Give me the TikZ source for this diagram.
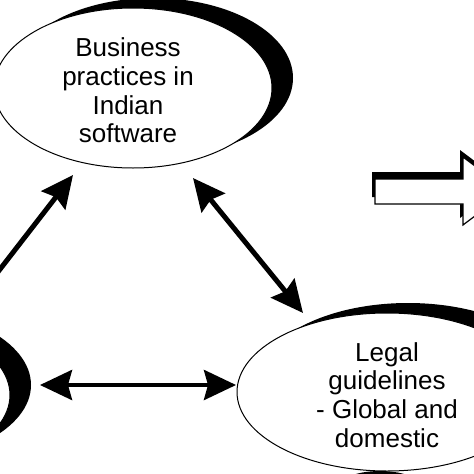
\documentclass[tikz,border=0pt]{standalone}
\usepackage{fontspec}
\setmainfont{Liberation Sans}
\usetikzlibrary{arrows.meta}
\begin{document}
\begin{tikzpicture}[x=1pt,y=-1pt,
  shadowfill/.style={fill=black},
  bubble/.style={draw=black, line width=1pt, fill=white},
  txt/.style={align=center, font=\fontsize{26}{28.8}\selectfont, inner sep=0pt},
  tip/.tip={Stealth[length=32pt,width=30pt,inset=4pt]},
  link/.style={line width=5pt, -tip},
  dlink/.style={line width=5pt, tip-tip}]
\useasboundingbox (0,0) rectangle (474,474);
\clip (0,0) rectangle (474,474);
% shadows
\fill[shadowfill] (153,78) ellipse (140 and 80);
\fill[shadowfill] (408,382) ellipse (150 and 79);
\fill[shadowfill] (-119,385) ellipse (150 and 79);
\fill[shadowfill] (380,490) ellipse (45 and 19);
% bubbles
\draw[bubble] (133,88) ellipse (139 and 80);
\draw[bubble] (387,392) ellipse (150 and 79);
\draw[bubble] (-140,395) ellipse (150 and 79);
% texts
\node[txt] (bus) at (128,90.5) {Business\\practices in\\Indian\\software};
\node[txt] (legal) at (387,395) {Legal\\guidelines\\- Global and\\domestic};
% block arrow
\fill[shadowfill] (372,172) -- (460,172) -- (460,150) -- (505,184) -- (460,218) -- (460,197) -- (372,197) -- cycle;
\draw[bubble, line width=1.2pt] (375,179) -- (463,179) -- (463,157) -- (508,191) -- (463,225) -- (463,204) -- (375,204) -- cycle;
% connectors
\coordinate (a1s) at (-6,277);
\coordinate (a1e) at (73,175);
\coordinate (a2s) at (193,178);
\coordinate (a2e) at (303,313);
\coordinate (a3s) at (40,385);
\coordinate (a3e) at (236,385);
\draw[link] (a1s) -- (a1e);
\draw[dlink] (a2s) -- (a2e);
\draw[dlink, line width=4pt] (a3s) -- (a3e);
\end{tikzpicture}
\end{document}
